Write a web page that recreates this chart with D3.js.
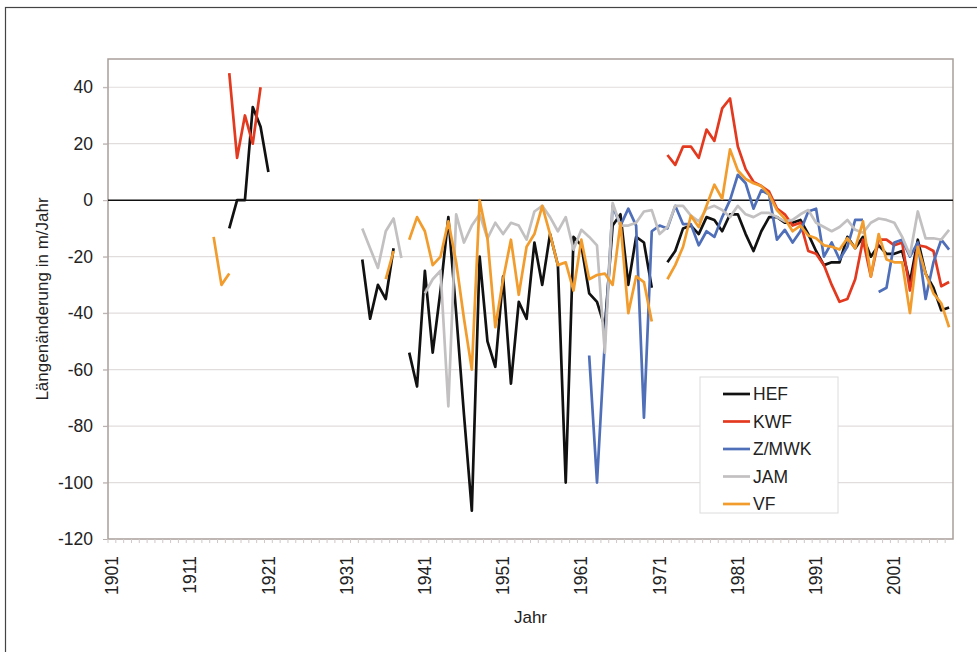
<!DOCTYPE html>
<html>
<head>
<meta charset="utf-8">
<script src="https://cdn.jsdelivr.net/npm/d3@7"></script>
<style>
  body { margin: 0; background: #fff; }
  text { font-family: Arial, "Liberation Sans", sans-serif; fill: #222; }
</style>
</head>
<body>
<div id="chart"></div>
<script>
// Years on the category axis
const years = d3.range(1901, 2009);
const yTicks = [-120, -100, -80, -60, -40, -20, 0, 20, 40];
const xTickYears = [1901, 1911, 1921, 1931, 1941, 1951, 1961, 1971, 1981, 1991, 2001];

// [year, value] pairs; missing years make gaps
const hef = [
  [1916,-10],[1917,0],[1918,0],[1919,33],[1920,26],[1921,10],
  [1933,-21],[1934,-42],[1935,-30],[1936,-35],[1937,-17],
  [1939,-54],[1940,-66],[1941,-25],[1942,-54],[1943,-32],[1944,-6],[1945,-40],[1946,-76],
  [1947,-110],[1948,-20],[1949,-50],[1950,-59],[1951,-27],[1952,-65],[1953,-36],[1954,-42],
  [1955,-15],[1956,-30],[1957,-12],[1958,-23],[1959,-100],[1960,-13],[1961,-16],[1962,-33],
  [1963,-36],[1964,-45],[1965,-9],[1966,-5],[1967,-30],[1968,-13],[1969,-15],[1970,-31],
  [1972,-22],[1973,-18],[1974,-10],[1975,-9],[1976,-12],[1977,-6],[1978,-7],[1979,-11],
  [1980,-5],[1981,-5],[1982,-12],[1983,-18],[1984,-11],[1985,-6],[1986,-6],[1987,-8],
  [1988,-8],[1989,-7],[1990,-12],[1991,-18],[1992,-23],[1993,-22],[1994,-22],[1995,-13],
  [1996,-17],[1997,-13],[1998,-20],[1999,-16],[2000,-19],[2001,-19],[2002,-18],[2003,-29],
  [2004,-14],[2005,-26],[2006,-31],[2007,-39],[2008,-38]
];
const kwf = [
  [1916,45],[1917,15],[1918,30],[1919,20],[1920,40],
  [1972,16],[1973,12.5],[1974,19],[1975,19],[1976,15],[1977,25],[1978,21],[1979,32.5],
  [1980,36],[1981,19],[1982,11],[1983,6.5],[1984,5],[1985,3],[1986,-3],[1987,-5],
  [1988,-9],[1989,-8],[1990,-18],[1991,-19],[1992,-23],[1993,-30],[1994,-36],[1995,-35],
  [1996,-28],[1997,-14],[1998,-27],[1999,-14],[2000,-14],[2001,-16],[2002,-15],[2003,-32],
  [2004,-16],[2005,-16.5],[2006,-18],[2007,-30.5],[2008,-29]
];
const zmwk = [
  [1962,-55],[1963,-100],[1964,-50],[1965,-2],[1966,-9],[1967,-3],[1968,-9],[1969,-77],
  [1970,-11],[1971,-9],[1972,-10],[1973,-2],[1974,-8.5],[1975,-8.5],[1976,-16],[1977,-11],
  [1978,-13],[1979,-6],[1980,0],[1981,9],[1982,6],[1983,-3],[1984,3.5],[1985,2],
  [1986,-14],[1987,-10.5],[1988,-15],[1989,-11],[1990,-4],[1991,-3],[1992,-20],[1993,-15],
  [1994,-21],[1995,-16.5],[1996,-7],[1997,-7],
  [1999,-32.5],[2000,-31],[2001,-15],[2002,-14],[2003,-20],[2004,-15],[2005,-35],
  [2006,-22],[2007,-14],[2008,-17.5]
];
const jam = [
  [1933,-10],[1934,-17],[1935,-24],[1936,-11],[1937,-6.5],[1938,-20.5],
  [1941,-33],[1942,-28],[1943,-25],[1944,-73],[1945,-5],[1946,-15],[1947,-9],[1948,-5],
  [1949,-13.5],[1950,-8],[1951,-12],[1952,-8],[1953,-9],[1954,-14],[1955,-4],[1956,-2],
  [1957,-6],[1958,-11],[1959,-6],[1960,-17.5],[1961,-10.5],[1962,-13],[1963,-16],[1964,-54],
  [1965,-1],[1966,-9],[1967,-9],[1968,-8],[1969,-4],[1970,-3.5],[1971,-12],[1972,-9.5],
  [1973,-2],[1974,-2],[1975,-5.5],[1976,-7.5],[1977,-3],[1978,-2],[1979,-3.5],[1980,-6],
  [1981,-2],[1982,-5],[1983,-6],[1984,-4.5],[1985,-4.5],[1986,-6],[1987,-7.5],[1988,-7],
  [1989,-5],[1990,-3.5],[1991,-8],[1992,-9.5],[1993,-11],[1994,-9.5],[1995,-7],[1996,-10.5],
  [1997,-11.5],[1998,-8],[1999,-6.5],[2000,-7],[2001,-8],[2002,-13],[2003,-19.5],[2004,-4],
  [2005,-13.5],[2006,-13.5],[2007,-14],[2008,-10.5]
];
const vf = [
  [1914,-13],[1915,-30],[1916,-26],
  [1936,-28],[1937,-18],
  [1939,-14],[1940,-6],[1941,-11],[1942,-23],[1943,-20],[1944,-7.5],[1945,-22],[1946,-42],
  [1947,-60],[1948,0],[1949,-13.5],[1950,-45],[1951,-28],[1952,-14],[1953,-33.5],[1954,-16.5],
  [1955,-12],[1956,-2],[1957,-12],[1958,-23],[1959,-22],[1960,-32],[1961,-14],[1962,-28],
  [1963,-26.5],[1964,-26],[1965,-30],[1966,-8],[1967,-40],[1968,-27],[1969,-29],[1970,-43],
  [1972,-28],[1973,-23],[1974,-16.5],[1975,-5.5],[1976,-9.5],[1977,-2],[1978,5.5],[1979,0.5],
  [1980,18],[1981,10.5],[1982,7.5],[1983,6],[1984,5],[1985,2],[1986,-3.5],[1987,-6.5],
  [1988,-11],[1989,-9],[1990,-12.5],[1991,-13.5],[1992,-16],[1993,-16.5],[1994,-17.5],
  [1995,-13.5],[1996,-17],[1997,-7.5],[1998,-27],[1999,-12],[2000,-21],[2001,-22],[2002,-22],
  [2003,-40],[2004,-16.5],[2005,-26],[2006,-33],[2007,-36.5],[2008,-45]
];

const seriesNames = ["HEF", "KWF", "Z/MWK", "JAM", "VF"];
const seriesData = [hef, kwf, zmwk, jam, vf];
const seriesColors = ["#111111", "#e3391f", "#4f6fb9", "#c2c0c0", "#f19c2c"];

// layout
const W = 977, H = 652;
const plot = { left: 108, right: 953, top: 59, bottom: 539 };

const svg = d3.select("#chart").append("svg")
  .attr("width", W)
  .attr("height", H);

svg.append("rect")
  .attr("width", W).attr("height", H)
  .attr("fill", "#fff");

// outer frame (only top/left visible in the picture)
svg.append("rect")
  .attr("x", 5.5).attr("y", 7.5)
  .attr("width", W + 20).attr("height", H + 20)
  .attr("fill", "none")
  .attr("stroke", "#444")
  .attr("stroke-width", 1.2);

const x = d3.scaleBand()
  .domain(years)
  .range([plot.left, plot.right])
  .padding(0);

const y = d3.scaleLinear()
  .domain([-120, 50])
  .range([plot.bottom, plot.top]);

const xc = yr => x(yr) + x.bandwidth() / 2;

// gridlines
svg.append("g")
  .selectAll("line")
  .data(yTicks.filter(d => d !== -120 && d !== 0))
  .join("line")
  .attr("x1", plot.left - 5).attr("x2", plot.right)
  .attr("y1", d => y(d)).attr("y2", d => y(d))
  .attr("stroke", "#e2dddd")
  .attr("stroke-width", 1.2);

// plot border
svg.append("rect")
  .attr("x", plot.left).attr("y", plot.top)
  .attr("width", plot.right - plot.left)
  .attr("height", plot.bottom - plot.top)
  .attr("fill", "none")
  .attr("stroke", "#a89e9a")
  .attr("stroke-width", 1.5);

// y axis (plain hyphen for negatives, as in the original)
const yAxis = svg.append("g")
  .attr("transform", `translate(${plot.left},0)`)
  .call(d3.axisLeft(y).tickValues(yTicks).tickFormat(d => String(d)).tickSize(5).tickPadding(10));
yAxis.select(".domain").remove();
yAxis.selectAll(".tick line").attr("stroke", "#b8b0ae");
yAxis.selectAll(".tick text")
  .attr("font-size", 17.5)
  .attr("font-family", "Arial, 'Liberation Sans', sans-serif")
  .attr("fill", "#222");

// x axis: small tick per category, labels every 10 years
const xAxis = svg.append("g")
  .attr("transform", `translate(0,${plot.bottom})`);
xAxis.selectAll("line")
  .data(years)
  .join("line")
  .attr("x1", d => x(d)).attr("x2", d => x(d))
  .attr("y1", 0).attr("y2", 4)
  .attr("stroke", "#cfc8c6");
xAxis.selectAll("text")
  .data(xTickYears)
  .join("text")
  .attr("transform", d => `translate(${xc(d)},17) rotate(-90)`)
  .attr("text-anchor", "end")
  .attr("dy", "0.35em")
  .attr("font-size", 17.5)
  .text(d => d);

// zero line
svg.append("line")
  .attr("x1", plot.left).attr("x2", plot.right)
  .attr("y1", y(0)).attr("y2", y(0))
  .attr("stroke", "#111")
  .attr("stroke-width", 1.5);

// series
const line = d3.line()
  .defined(d => d[1] != null)
  .x(d => xc(d[0]))
  .y(d => y(d[1]));

seriesData.forEach((data, i) => {
  const lookup = new Map(data);
  const full = years.map(yr => [yr, lookup.has(yr) ? lookup.get(yr) : null]);
  svg.append("path")
    .datum(full)
    .attr("fill", "none")
    .attr("stroke", seriesColors[i])
    .attr("stroke-width", 2.7)
    .attr("stroke-linejoin", "round")
    .attr("d", line);
});

// axis titles
svg.append("text")
  .attr("transform", `translate(42,${(plot.top + plot.bottom) / 2}) rotate(-90)`)
  .attr("text-anchor", "middle")
  .attr("dy", "0.35em")
  .attr("font-size", 17)
  .text("Längenänderung in m/Jahr");

svg.append("text")
  .attr("x", (plot.left + plot.right) / 2)
  .attr("y", 617)
  .attr("text-anchor", "middle")
  .attr("dy", "0.35em")
  .attr("font-size", 17)
  .text("Jahr");

// legend
const legend = svg.append("g").attr("transform", "translate(700,377)");
legend.append("rect")
  .attr("width", 138).attr("height", 136)
  .attr("fill", "#fff")
  .attr("stroke", "#dcdcdc");
seriesNames.forEach((name, i) => {
  const ly = 17 + i * 27.5;
  legend.append("line")
    .attr("x1", 23).attr("x2", 50)
    .attr("y1", ly).attr("y2", ly)
    .attr("stroke", seriesColors[i])
    .attr("stroke-width", 2.7);
  legend.append("text")
    .attr("x", 53).attr("y", ly)
    .attr("dy", "0.35em")
    .attr("font-size", 17.5)
    .text(name);
});
</script>
</body>
</html>
